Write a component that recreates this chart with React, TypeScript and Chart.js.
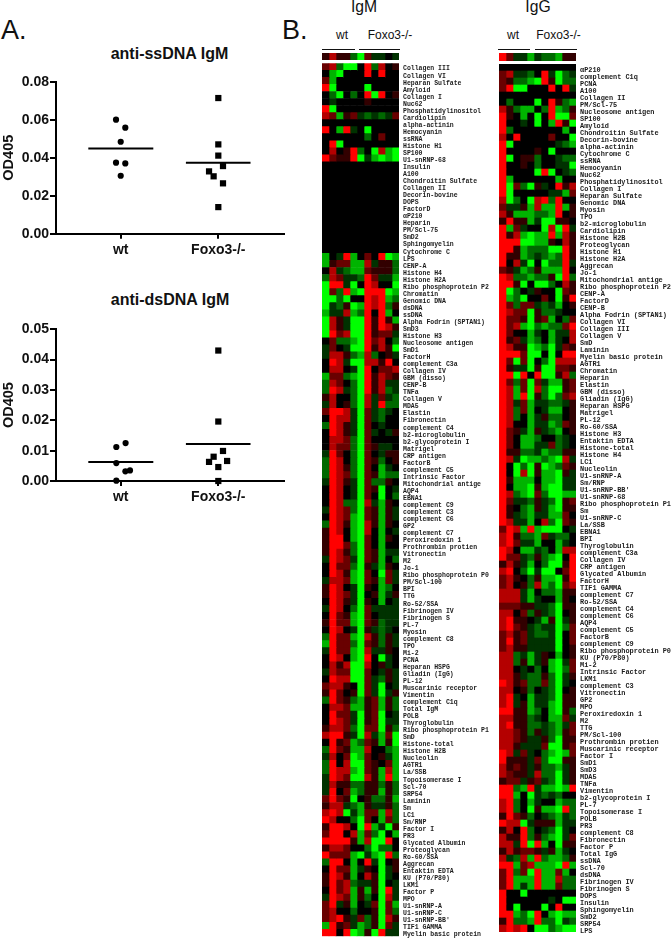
import React, { useEffect, useRef } from "react";
import { Chart, registerables } from "chart.js";

Chart.register(...registerables);

// ---------- Panel A ----------
const GROUPS = ["wt", "Foxo3-/-"];
const SS_TICK_STEP = 0.02;
const DS_TICK_STEP = 0.01;
const SS_WT = [{ x: 0.952, y: 0.06 }, { x: 1.047, y: 0.0558 }, { x: 1, y: 0.0484 }, { x: 0.952, y: 0.0374 }, { x: 1.047, y: 0.037 }, { x: 1, y: 0.0305 }];
const SS_KO = [{ x: 2, y: 0.0714 }, { x: 2, y: 0.047 }, { x: 2, y: 0.0411 }, { x: 2.048, y: 0.0356 }, { x: 1.905, y: 0.0328 }, { x: 1.952, y: 0.0302 }, { x: 2.048, y: 0.0265 }, { x: 2, y: 0.014 }];
const SS_MEANS = [0.0449, 0.0374];
const DS_WT = [{ x: 1.05, y: 0.0125 }, { x: 0.955, y: 0.0112 }, { x: 0.955, y: 0.0059 }, { x: 1.095, y: 0.0035 }, { x: 1.048, y: 0.0032 }, { x: 0.955, y: 0.0001 }];
const DS_KO = [{ x: 2, y: 0.043 }, { x: 2, y: 0.0196 }, { x: 2.048, y: 0.0099 }, { x: 1.952, y: 0.008 }, { x: 1.905, y: 0.0063 }, { x: 2.09, y: 0.0066 }, { x: 2, y: 0.0046 }, { x: 2, y: 0 }];
const DS_MEANS = [0.0063, 0.0122];

// ---------- Panel B: one character per cell. 0 = none, 1-4 = up (red), a-d = down (green) ----------
const IGM_STRIP = "1311bd2aa0a";
const IGG_STRIP = "42aacabbc11";

const IGM_LABELS = ["Collagen III","Collagen VI","Heparan Sulfate","Amyloid","Collagen I","Nuc62","Phosphatidylinositol","Cardiolipin","alpha-actinin","Hemocyanin","ssRNA","Histone H1","SP100","U1-snRNP-68","Insulin","A100","Chondroitin Sulfate","Collagen II","Decorin-bovine","DOPS","FactorD","αP210","Heparin","PM/Scl-75","SmD2","Sphingomyelin","Cytochrome C","LPS","CENP-A","Histone H4","Histone H2A","Ribo phosphoprotein P2","Chromatin","Genomic DNA","dsDNA","ssDNA","Alpha Fodrin (SPTAN1)","SmD3","Histone H3","Nucleosome antigen","SmD1","FactorH","complement C3a","Collagen IV","GBM (disso)","CENP-B","TNFa","Collagen V","MDA5","Elastin","Fibronectin","complement C4","b2-microglobulin","b2-glycoprotein I","Matrigel","CRP antigen","FactorB","complement C5","Intrinsic Factor","Mitochondrial antige","AQP4","EBNA1","complement C9","complement C3","complement C6","GP2","complement C7","Peroxiredoxin 1","Prothrombin protien","Vitronectin","M2","Jo-1","Ribo phosphoprotein P0","PM/Scl-100","BPI","TTG","Ro-52/SSA","Fibrinogen IV","Fibrinogen S","PL-7","Myosin","complement C8","TPO","Mi-2","PCNA","Heparan HSPG","Gliadin (IgG)","PL-12","Muscarinic receptor","Vimentin","complement C1q","Total IgM","POLB","Thyroglobulin","Ribo phosphoprotein P1","SmD","Histone-total","Histone H2B","Nucleolin","AGTR1","La/SSB","Topoisomerase I","Scl-70","SRP54","Laminin","Sm","LC1","Sm/RNP","Factor I","PR3","Glycated Albumin","Proteoglycan","Ro-60/SSA","Aggrecan","Entaktin EDTA","KU (P70/P80)","LKM1","Factor P","MPO","U1-snRNP-A","U1-snRNP-C","U1-snRNP-BB'","TIF1 GAMMA","Myelin basic protein"];

const IGM_ROWS = ["23bdd04b301","0cd00040400","2c000000000","4d0000d0000","0bd0b04d401","0a000010000","4d000000000","32c12ababa2","00000000000","40c4a0d0000","000000b0200","04d00000000","03014b0d3cd","42114dacdcd",
"00000000000","00000000000","00000000000","00000000000","00000000000","00000000000","00000000000","00000000000","00000000000","00000000000","00000000000","00000000000","00000000000",
"c0a4c0204dc","c122cc3a11b","03abcc2111b","b32aab42aac","d44ad04300d","d2b4cd444dc","ddbd00434cb","dab1dc434b1","caa3cb404c0","d31add4141c","d31add41431","d423dd4122a","02bbcd4230b","a20add4131d","a331bc3b01a","043add33140","0330ad40223","c22bcd41321","b320bd413aa","b43abd413ba","1300bd3a2ab","a301bd3a4bb","2443ad2aba0","0433ad2ab00","b431ad20a00","0431ad2a0a1","0332bd20000","0322bd21aa0","a420bd20a11","b430bd21b01","b431bd20ca0","b432bd21cbb",
"a431ad2bb10","0430ad21d0a","0430ad20d0b","043bbd3ac10","a432bd21c1a","0432cd21c1a","b431cd31c10","1430cd30c0a","1440cd20c10","1442bd20c00","1431bd21caa","a432ad21c0b","0422bd1ac10","0431cd20d2a","a332cd21c2a","1430ad10cb0","1432ad01ca1","0431ad10c0a","a430bd2aaaa","0421cd20aaa","1422cd21baa","0430ad1aba0","b422cd31b1a","c422bd21b1a","a422cd3aa10","0430cd40da0","0313dd301a0","a322dd20a1a","0433dd2ab1a","23310d2ad0a","14201d2ada1","b421bc12c1b","0332cc12c1b",
"0422ad12d0a","0432ad12daa","1332bd22d1b","3441ad3ac2d","0412cb21c1d","b421cc300bc","a302dc201ac","b403dd2102c","b433cd21c3c","a432dd31c4c","a311bb11b1b","a402cb11c1b","2421d01bb1c","133abc1aa1b","343dac22c3b","4300bd20c2b","14430d4cad1","24403c2bd0c","44441c3dd40","133200bdbb0","4222cdacd4b","b440c04ad01","0422ca10da1","1431c031da0","1423baa1d0a","0423c1c1d4a","a432c1b0d3a","24a1c0a2d2c","2300b001d2b","2341a2b1d31","c412acb1d2a","4404dc1d4aa"];

const IGG_LABELS = ["αP210","complement C1q","PCNA","A100","Collagen II","PM/Scl-75","Nucleosome antigen","SP100","Amyloid","Chondroitin Sulfate","Decorin-bovine","alpha-actinin","Cytochrome C","ssRNA","Hemocyanin","Nuc62","Phosphatidylinositol","Collagen I","Heparan Sulfate","Genomic DNA","Myosin","TPO","b2-microglobulin","Cardiolipin","Histone H2B","Proteoglycan","Histone H1","Histone H2A","Aggrecan","Jo-1","Mitochondrial antige","Ribo phosphoprotein P2","CENP-A","FactorD","CENP-B","Alpha Fodrin (SPTAN1)","Collagen VI","Collagen III","Collagen V","SmD","Laminin","Myelin basic protein","AGTR1","Chromatin","Heparin","Elastin","GBM (disso)","Gliadin (IgG)","Heparan HSPG","Matrigel","PL-12","Ro-60/SSA","Histone H3","Entaktin EDTA","Histone-total","Histone H4","LC1","Nucleolin","U1-snRNP-A","Sm/RNP","U1-snRNP-BB'","U1-snRNP-68","Ribo phosphoprotein P1","Sm","U1-snRNP-C","La/SSB","EBNA1","BPI","Thyroglobulin","complement C3a","Collagen IV","CRP antigen","Glycated Albumin","FactorH","TIF1 GAMMA","complement C7","Ro-52/SSA","complement C4","complement C6","AQP4","complement C5","FactorB","complement C9","Ribo phosphoprotein P0","KU (P70/P80)","Mi-2","Intrinsic Factor","LKM1","complement C3","Vitronectin","GP2","MPO","Peroxiredoxin 1","M2","TTG","PM/Scl-100","Prothrombin protien","Muscarinic receptor","Factor I","SmD1","SmD3","MDA5","TNFa","Vimentin","b2-glycoprotein I","PL-7","Topoisomerase I","POLB","PR3","complement C8","Fibronectin","Factor P","Total IgG","ssDNA","Scl-70","dsDNA","Fibrinogen IV","Fibrinogen S","DOPS","Insulin","Sphingomyelin","SmD2","SRP54","LPS"];

const IGG_ROWS = ["00000000000","23aab04adba","21bbcd41dbb","24dd000404a","00000000000","0b000d041bc","31bcc0b4cb1","410c0d04dd2","400a0d0c41d","4b0000000c0","3040000200d","4d000000abc","4000010d000","4d011b00abb","40010b00aad","40000d4d0ab","4c000000c00","4d2bd1a0413","4d00000aac2","3db0d34b400","2aa1c3cc4c1","31cccbbc401","1411cadd110","4c2a00d3d4a","413cdcc4c31",
"444ddcc1031","441cbbbdd41","411cbabcb41","403ad0dbb4a","21acb1ccc40","43bbcbb1d4b","441d0ddb031","4db0a100d21","4cbd0020d14","42b22abac01","4322d1bba00","4221d12c0b2","423cdbcbb24","4200ca0caa3","412acb0ca03","4311dcbda21","4442dd0d044","42d2d0bd333","41aad1dd221","44d404dd13b","42b2d2acc12","43c2d3bdd12","43c4d1bdb23","43a2caabba1","43b2c0acc01","43b0ca1bb01","4300caacb21","421ac1abc01","420ccb00ba0","420ccaa2ba0","411bbacbb11","43adccbcd3a","40dbd1dcb21","40d3d1ccd1a",
"41ccc0ccdaa","40ccd1cddaa","43bcd2bddcc","42aab1abd12","410bc1acd11","41abcaacc20","43aac03bd21","243c4cddd0a","341bbc2abb0","342aac00ca0","430ccab0c33","422ab1bcd04","131ac0bdd14","340bdadd024","2310b1ccd14","2301b3cbd23","333ac0bbc11","333aca00c10","22211aabd11","3302b1abd01","34110ac1da1","3421abaadb2","2312abbad02","2412aaaad02","2311aaaad01","33baca10c01","33b1ca1cda2","330a0b0cdb2","331abb1bda1","4312bb2bda0","3301b0abd01","34a0caabd11","34a1caacd11",
"4411cb0cd1b","3311ba0cc2a","3411bbabca2","3321b1abc12","3321aa1bd11","331aaa2dd12","43a2a0bcdc2","4111a2bdd11","3121a1bbca1","3211a3bbda1","122a12abda1","44bc4accdc4","44c0dabab00","34b0ca00cbb","34b0d1ccd4b","1421b0abcab","433da111caa","1304b0abda0","3114b1bcda2","33a4d4c0d11","131221a1ca0","3ab3c4bccb1","44c23cccd4c","24b2d4cc2c0","24ccc4cc3bb","24cac4cc2bb","400d0000000","4000000a0dd","40d000d0400","44cbd40cdcc","14bbc4bbdab","34340ddbcdd"];

const COLUMNS = 11;
const LEVELS = [0, 50, 105, 180, 255];

function decode(ch: string): number {
  if (ch >= "1" && ch <= "4") return Number(ch);
  if (ch >= "a" && ch <= "d") return -(ch.charCodeAt(0) - 96);
  return 0;
}
function cellColor(ch: string | undefined): string {
  const v = decode(ch ?? "0");
  const c = LEVELS[Math.abs(v)];
  return v >= 0 ? `rgb(${c},0,0)` : `rgb(0,${c},0)`;
}

const SANS = "'Liberation Sans', Arial, sans-serif";
const MONO = "'Liberation Mono', 'Courier New', monospace";

function heatConfig(labels: string[], rows: string[], plotW: number, canvasW: number, fontSize: number, offset: number, showLabels: boolean, padTop = 0, padBottom = 0): any {
  const datasets = Array.from({ length: COLUMNS }, (_, col) => ({
    data: rows.map(() => 1),
    backgroundColor: rows.map((r) => cellColor(r[col])),
    borderWidth: 0,
    barPercentage: 1,
    categoryPercentage: 1,
    stack: "m",
  }));
  return {
    type: "bar",
    data: { labels, datasets },
    options: {
      indexAxis: "y",
      animation: false,
      responsive: false,
      events: [],
      layout: { padding: { top: padTop, bottom: padBottom, left: 0, right: 0 }, autoPadding: false },
      plugins: { legend: { display: false }, tooltip: { enabled: false } },
      scales: {
        x: { stacked: true, display: false, min: 0, max: COLUMNS },
        y: {
          stacked: true,
          display: showLabels,
          position: "right",
          grid: { display: false, drawTicks: false },
          border: { display: false },
          afterFit: (s: any) => {
            s.width = canvasW - plotW;
            s.paddingTop = 0;
            s.paddingBottom = 0;
          },
          ticks: {
            autoSkip: false,
            padding: 4,
            labelOffset: offset,
            maxRotation: 0,
            color: "#1a1a1a",
            font: { family: MONO, size: fontSize, weight: "bold" },
          },
        },
      },
    },
  };
}

function scatterConfig(wt: any[], ko: any[], means: number[], yMax: number, step: number, plotTop: number, xH: number): any {
  const line = (y: number, a: number, b: number) => ({
    type: "scatter",
    data: [{ x: a, y }, { x: b, y }],
    showLine: true,
    pointRadius: 0,
    borderColor: "#000",
    borderWidth: 2,
  });
  return {
    type: "scatter",
    data: {
      datasets: [
        { data: wt, pointStyle: "circle", pointRadius: 3.1, backgroundColor: "#000", borderWidth: 0, clip: false },
        { data: ko, pointStyle: "rect", pointRadius: 4.4, backgroundColor: "#000", borderWidth: 0, clip: false },
        line(means[0], 0.668, 1.334),
        line(means[1], 1.668, 2.33),
      ],
    },
    options: {
      animation: false,
      responsive: false,
      events: [],
      layout: { padding: { top: plotTop, right: 16, bottom: 0, left: 0 } },
      plugins: { legend: { display: false }, tooltip: { enabled: false } },
      scales: {
        x: {
          type: "linear",
          min: 0.337,
          max: 2.673,
          afterFit: (s: any) => { s.height = xH; },
          afterBuildTicks: (s: any) => { s.ticks = [{ value: 1 }, { value: 2 }]; },
          border: { color: "#000", width: 2 },
          grid: { drawOnChartArea: false, color: "#000", lineWidth: 2, tickLength: 5 },
          ticks: {
            color: "#111",
            padding: 3,
            maxRotation: 0,
            font: { family: SANS, size: 14, weight: "bold" },
            callback: (v: number) => GROUPS[v - 1],
          },
        },
        y: {
          min: 0,
          max: yMax,
          afterFit: (s: any) => { s.width = 56; },
          border: { color: "#000", width: 2 },
          grid: { drawOnChartArea: false, color: "#000", lineWidth: 2, tickLength: 6 },
          title: {
            display: true,
            text: "OD405",
            color: "#111",
            padding: 0,
            font: { family: SANS, size: 14.5, weight: "bold" },
          },
          ticks: {
            stepSize: step,
            color: "#111",
            padding: 1,
            font: { family: SANS, size: 14, weight: "bold" },
            callback: (v: number) => v.toFixed(2),
          },
        },
      },
    },
  };
}

function Plot({ left, top, width, height, config }: { left: number; top: number; width: number; height: number; config: () => any }) {
  const ref = useRef<HTMLCanvasElement>(null);
  useEffect(() => {
    const chart = new Chart(ref.current as HTMLCanvasElement, config());
    return () => chart.destroy();
  }, []);
  return <canvas ref={ref} width={width} height={height} style={{ position: "absolute", left, top, width, height }} />;
}

function Text({ x, baseline, size, children, center, bold }: { x: number; baseline: number; size: number; children: string; center?: boolean; bold?: boolean }) {
  return (
    <div
      style={{
        position: "absolute",
        left: x,
        top: baseline - size * 0.905,
        fontFamily: SANS,
        fontSize: size,
        fontWeight: bold ? "bold" : "normal",
        lineHeight: "normal",
        color: "#111",
        whiteSpace: "nowrap",
        transform: center ? "translateX(-50%)" : undefined,
      }}
    >
      {children}
    </div>
  );
}

function Rule({ left, right, top }: { left: number; right: number; top: number }) {
  return <div style={{ position: "absolute", left, top, width: right - left, height: 1.4, background: "#111" }} />;
}

export default function App() {
  return (
    <div style={{ position: "absolute", left: 0, top: 0, width: 672, height: 938, overflow: "hidden", background: "#fff" }}>
      <Text x={1} baseline={39.5} size={27}>A.</Text>
      <Text x={282} baseline={39.5} size={27}>B.</Text>
      <Text x={169.5} baseline={59} size={16} center bold>anti-ssDNA IgM</Text>
      <Text x={170} baseline={305.3} size={16} center bold>anti-dsDNA IgM</Text>
      <Plot left={0} top={40} width={300} height={222} config={() => scatterConfig(SS_WT, SS_KO, SS_MEANS, 0.08, SS_TICK_STEP, 41.7, 28.3)} />
      <Plot left={0} top={285} width={300} height={225} config={() => scatterConfig(DS_WT, DS_KO, DS_MEANS, 0.05, DS_TICK_STEP, 44.3, 29)} />

      <Text x={364} baseline={12.5} size={15.7} center>IgM</Text>
      <Text x={538} baseline={12.5} size={15.7} center>IgG</Text>
      <Text x={342} baseline={38.7} size={12} center>wt</Text>
      <Text x={390} baseline={38.7} size={12} center>Foxo3-/-</Text>
      <Text x={513} baseline={38.7} size={12} center>wt</Text>
      <Text x={558.5} baseline={38.7} size={12} center>Foxo3-/-</Text>
      <Rule left={322} right={355} top={48.5} />
      <Rule left={359} right={400} top={48.5} />
      <Rule left={498} right={530} top={48.5} />
      <Rule left={535} right={577} top={48.5} />

      <Plot left={322} top={53} width={77} height={7} config={() => heatConfig(["wt / Foxo3-/-"], [IGM_STRIP], 77, 77, 6, 0, false)} />
      <Plot left={499} top={53} width={77} height={8} config={() => heatConfig(["wt / Foxo3-/-"], [IGG_STRIP], 77, 77, 6, 0, false)} />
      <Plot left={322} top={63} width={177} height={875} config={() => heatConfig(IGM_LABELS, IGM_ROWS, 77, 177, 6.5, 2, true, 0.3, 1.7)} />
      <Plot left={499} top={64} width={173} height={872} config={() => heatConfig(IGG_LABELS, IGG_ROWS, 77, 173, 6.9, 2.5, true, 0, 4)} />
    </div>
  );
}
